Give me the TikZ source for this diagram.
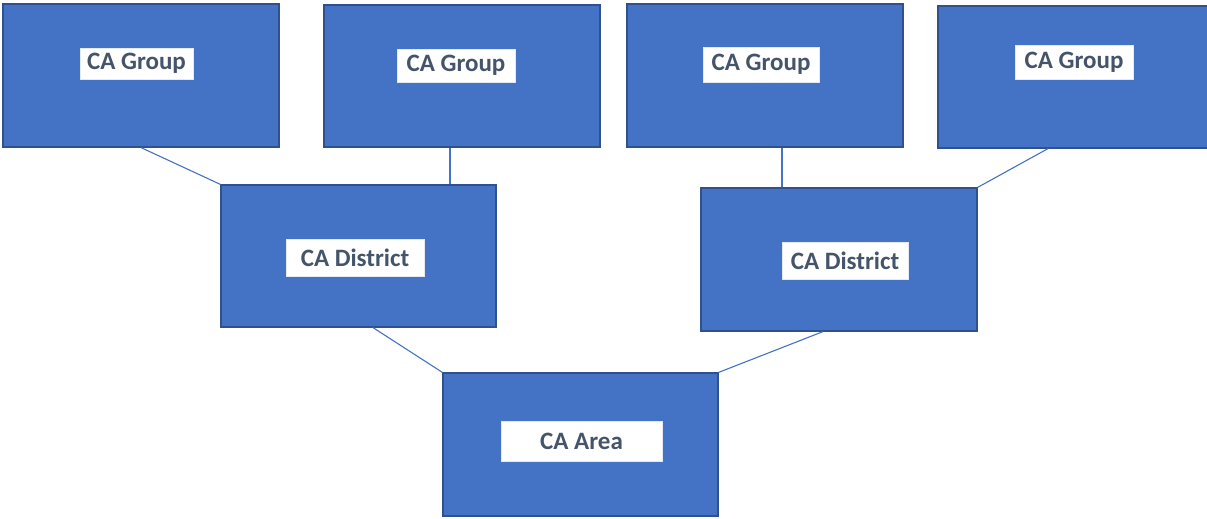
\documentclass[tikz,border=0pt]{standalone}
\usepackage{fontspec}
\setmainfont{Carlito}
\usetikzlibrary{calc}
\definecolor{boxblue}{HTML}{4472C4}
\definecolor{boxedge}{HTML}{2F528F}
\definecolor{labeltext}{HTML}{44546A}
\tikzset{
  unit/.style={rectangle, draw=boxedge, line width=1.2pt, fill=boxblue, inner sep=0pt},
  tag/.style={rectangle, fill=white, draw=white!85!boxblue, line width=0.6pt, inner sep=0pt,
    text=labeltext, font=\fontsize{25}{30}\selectfont\bfseries},
  link/.style={draw=boxblue, line width=1.1pt}
}
\begin{document}
\begin{tikzpicture}[x=1pt, y=-1pt]
  \useasboundingbox[fill=white] (0,0) rectangle (1207,519);
  % groups
  \node[unit, minimum width=276pt, minimum height=143pt] (g1) at (141,75.5) {};
  \node[unit, minimum width=276pt, minimum height=142pt] (g2) at (462,76) {};
  \node[unit, minimum width=276pt, minimum height=143pt] (g3) at (765,75.5) {};
  \node[unit, minimum width=276pt, minimum height=142pt] (g4) at (1076,77) {};
  % districts and area
  \node[unit, minimum width=275pt, minimum height=142pt] (d1) at (358.5,256) {};
  \node[unit, minimum width=276pt, minimum height=143pt] (d2) at (839,259.5) {};
  \node[unit, minimum width=275pt, minimum height=143pt] (area) at (580.5,444.5) {};
  % labels
  \node[tag, minimum width=113pt, minimum height=31pt] (g1t) at (136.5,63.5) {CA Group};
  \node[tag, minimum width=118pt, minimum height=33pt] (g2t) at (456,65.5) {CA Group};
  \node[tag, minimum width=116pt, minimum height=35pt] (g3t) at (761,64.5) {CA Group};
  \node[tag, minimum width=118pt, minimum height=34pt] (g4t) at (1074,62) {CA Group};
  \node[tag, minimum width=138pt, minimum height=37pt] (d1t) at (355,257.5) {CA District};
  \node[tag, minimum width=126pt, minimum height=37pt] (d2t) at (845,260.5) {CA District};
  \node[tag, minimum width=161pt, minimum height=40pt] (areat) at (581.5,441) {CA Area};
  % connectors
  \draw[link] (g1.south) -- (d1.north west);
  \draw[link] ([xshift=-12pt]g2.south) -- ([xshift=-12pt]g2.south |- d1.north);
  \draw[link] ([xshift=17pt]g3.south) -- ([xshift=17pt]g3.south |- d2.north);
  \draw[link] ([xshift=-28pt]g4.south) -- (d2.north east);
  \draw[link] ([xshift=14.5pt]d1.south) -- (area.north west);
  \draw[link] ([xshift=-16pt]d2.south) -- (area.north east);
\end{tikzpicture}
\end{document}
